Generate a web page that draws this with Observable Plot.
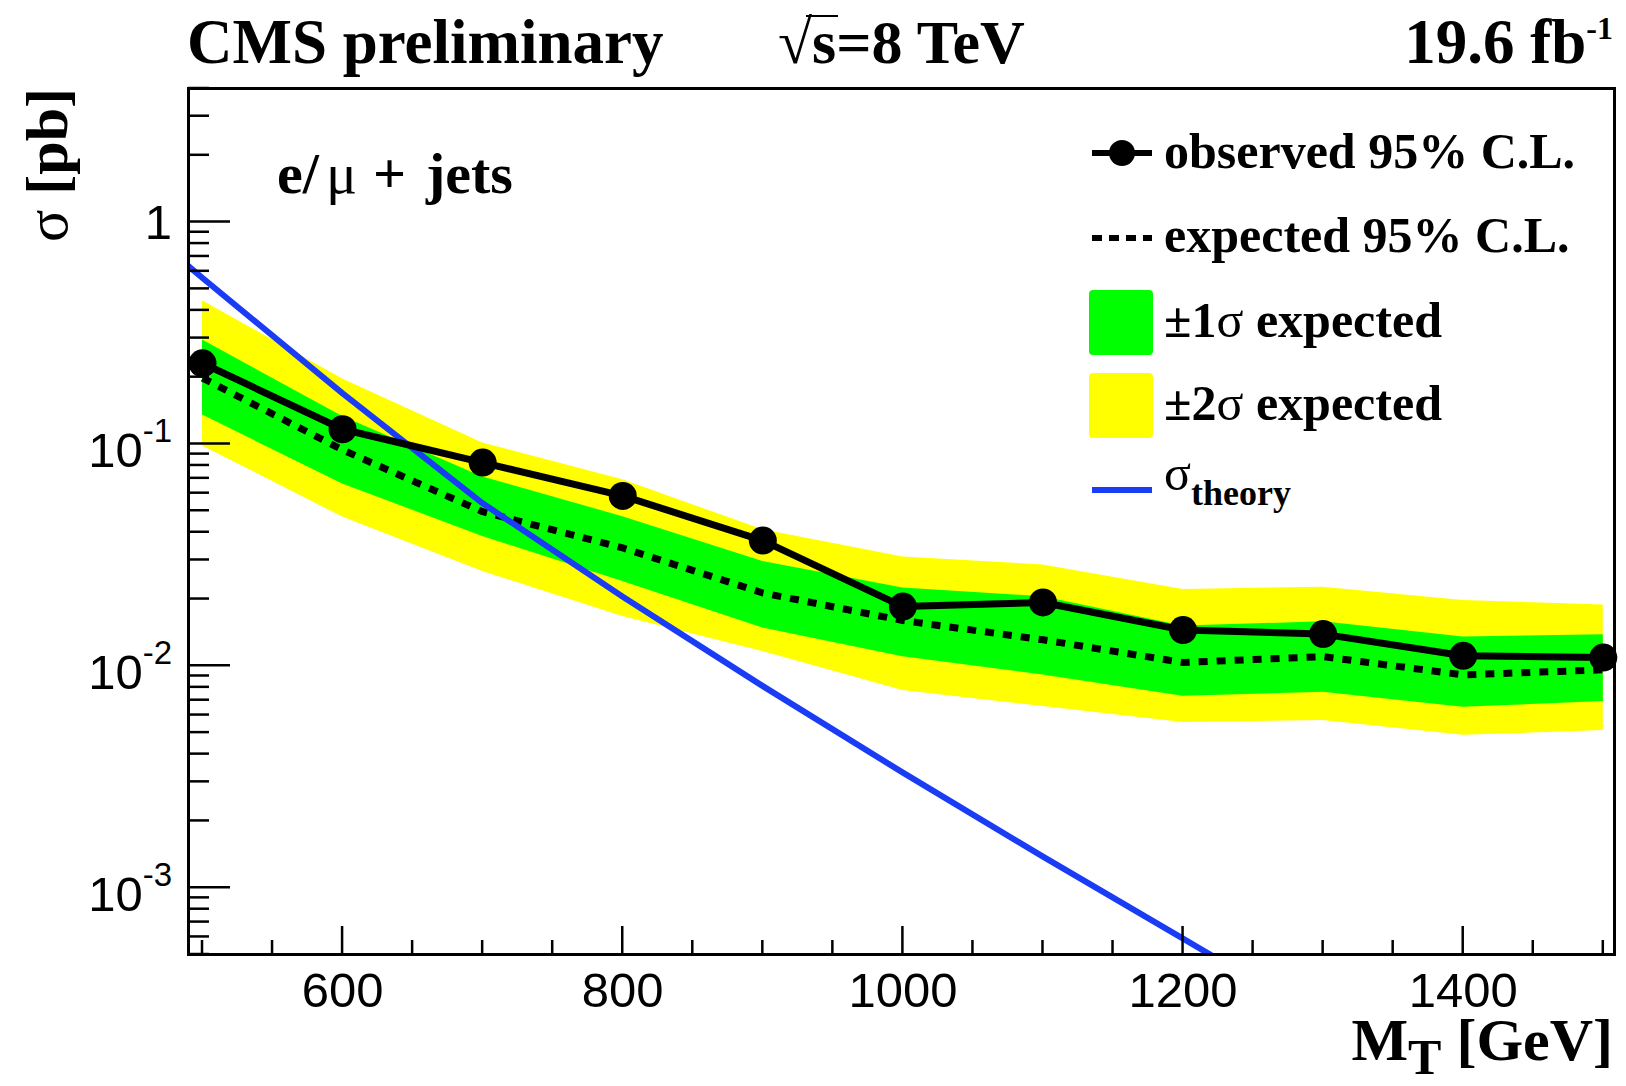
<!DOCTYPE html>
<html>
<head>
<meta charset="utf-8">
<script src="https://cdn.jsdelivr.net/npm/d3@7"></script>
<script src="https://cdn.jsdelivr.net/npm/@observablehq/plot@0.6"></script>
<style>
  html, body { margin: 0; padding: 0; background: #fff; }
  #chart { width: 1626px; height: 1086px; }
  #chart svg { display: block; }
</style>
</head>
<body>
<div id="chart"></div>
<script>
// Transverse mass points (GeV) of the limit scan
const mass = [500, 600, 700, 800, 900, 1000, 1100, 1200, 1300, 1400, 1500];

// 95% C.L. upper limits on the cross section (pb)
const observed = [0.231, 0.1165, 0.0824, 0.0583, 0.0367, 0.0185, 0.0193, 0.0145, 0.0139, 0.0111, 0.0109];
const expected = [0.198, 0.094, 0.0495, 0.034, 0.0213, 0.0160, 0.0131, 0.01035, 0.0110, 0.0091, 0.0096];

// Expected-limit bands
const oneSigmaUp   = [0.294, 0.133, 0.071, 0.047, 0.0295, 0.0224, 0.0205, 0.0151, 0.0158, 0.0135, 0.0138];
const oneSigmaDown = [0.135, 0.066, 0.0383, 0.024, 0.0148, 0.0110, 0.0091, 0.0073, 0.0076, 0.0065, 0.0069];
const twoSigmaUp   = [0.442, 0.196, 0.101, 0.069, 0.041, 0.0309, 0.0285, 0.0221, 0.0226, 0.0197, 0.0188];
const twoSigmaDown = [0.098, 0.0468, 0.0266, 0.0167, 0.0116, 0.00775, 0.00656, 0.00556, 0.00567, 0.00486, 0.00511];

// Theoretical cross section (pb)
const theoryMass  = [400, 500, 600, 700, 800, 900, 1000, 1100, 1200, 1300];
const theoryXsec  = [1.9, 0.56, 0.169, 0.054, 0.0205, 0.0081, 0.0033, 0.00138, 0.00059, 0.00025];

// Axis ticks
const xMajorTicks = [600, 800, 1000, 1200, 1400];
const yLabelValues = [1, 1e-1, 1e-2, 1e-3];
const yLabelExponents = [0, -1, -2, -3];

const limits = mass.map((m, i) => ({
  m,
  obs: observed[i],
  exp: expected[i],
  up1: oneSigmaUp[i],
  dn1: oneSigmaDown[i],
  up2: twoSigmaUp[i],
  dn2: twoSigmaDown[i]
}));
const theory = theoryMass.map((m, i) => ({m, s: theoryXsec[i]}));

const serif = "'Liberation Serif', 'Times New Roman', Times, serif";
const sans = "'Liberation Sans', Helvetica, Arial, sans-serif";
const BLUE = "#1a3cf5";

const W = 1626, H = 1086;
const mTop = 88, mRight = 12, mBottom = 132, mLeft = 188;

const plot = Plot.plot({
  width: W,
  height: H,
  marginTop: mTop,
  marginRight: mRight,
  marginBottom: mBottom,
  marginLeft: mLeft,
  style: {background: "#fff", overflow: "visible"},
  x: {domain: [490, 1508]},
  y: {type: "log", domain: [5e-4, 4], axis: null},
  marks: [
    Plot.areaY(limits, {x: "m", y1: "dn2", y2: "up2", fill: "#ffff00"}),
    Plot.areaY(limits, {x: "m", y1: "dn1", y2: "up1", fill: "#00ff00"}),
    Plot.line(limits, {
      x: "m", y: "exp", stroke: "#000", strokeWidth: 7,
      strokeDasharray: "9,9", strokeLinecap: "butt", strokeLinejoin: "miter"
    }),
    Plot.line(theory, {x: "m", y: "s", stroke: BLUE, strokeWidth: 6, clip: true}),
    Plot.line(limits, {x: "m", y: "obs", stroke: "#000", strokeWidth: 7}),
    Plot.dot(limits, {x: "m", y: "obs", r: 14, fill: "#000", stroke: null}),
    Plot.axisX({
      ticks: xMajorTicks,
      tickSize: 0,
      tickPadding: 18,
      fontSize: 49,
      fontFamily: sans,
      fill: "#000",
      label: null,
      tickFormat: d => String(d)
    }),
    Plot.frame({stroke: "#000", strokeWidth: 3})
  ]
});

document.getElementById("chart").appendChild(plot);

const svg = d3.select(plot);
const xs = plot.scale("x");
const ys = plot.scale("y");
const X = v => xs.apply(v);
const Y = v => ys.apply(v);
const frameBottom = H - mBottom;

// Inward ticks on the left (log) and bottom axes
const ticks = svg.append("g").attr("stroke", "#000").attr("stroke-width", 2.5);
for (let e = -4; e <= 0; e++) {
  for (let k = 1; k <= 9; k++) {
    const v = k * Math.pow(10, e);
    if (v < 5e-4 * 0.999 || v > 4 * 1.001) continue;
    const len = k === 1 ? 42 : 21;
    ticks.append("line")
      .attr("x1", mLeft).attr("x2", mLeft + len)
      .attr("y1", Y(v)).attr("y2", Y(v));
  }
}
for (let v = 500; v <= 1500; v += 50) {
  const len = xMajorTicks.includes(v) ? 28 : 14;
  ticks.append("line")
    .attr("x1", X(v)).attr("x2", X(v))
    .attr("y1", frameBottom).attr("y2", frameBottom - len);
}

// All annotation text is laid out from its start unless stated otherwise
const notes = svg.append("g").attr("text-anchor", "start").attr("fill", "#000");

// Power-of-ten labels on the y axis
yLabelValues.forEach((v, i) => {
  const e = yLabelExponents[i];
  const t = notes.append("text")
    .attr("x", 172)
    .attr("text-anchor", "end")
    .attr("font-family", sans)
    .attr("font-size", 49);
  if (e === 0) {
    t.attr("y", Y(v) + 17.5).text("1");
  } else {
    t.attr("y", Y(v) + 24);
    t.append("tspan").text("10");
    t.append("tspan").attr("font-size", 33).attr("dy", -25).text(String(e));
  }
});

// Header line
const header = notes.append("g").attr("font-family", serif).attr("font-weight", "bold");
header.append("text").attr("x", 187).attr("y", 63).attr("font-size", 63).text("CMS preliminary");
const energy = header.append("text").attr("x", 778).attr("y", 63).attr("font-size", 62);
energy.append("tspan").attr("font-weight", "normal").text("\u221A");
energy.append("tspan").text("s=8 TeV");
header.append("line").attr("x1", 806).attr("x2", 838).attr("y1", 16).attr("y2", 16)
  .attr("stroke", "#000").attr("stroke-width", 2);
const lumi = header.append("text").attr("x", 1613).attr("y", 63).attr("font-size", 63).attr("text-anchor", "end");
lumi.append("tspan").text("19.6 fb");
lumi.append("tspan").attr("font-size", 32).attr("dy", -24).text("-1");

// Axis titles
const yTitle = notes.append("text")
  .attr("transform", `translate(67,${mTop}) rotate(-90)`)
  .attr("text-anchor", "end")
  .attr("font-family", serif)
  .attr("font-size", 60);
yTitle.append("tspan").text("\u03C3");
yTitle.append("tspan").attr("font-weight", "bold").text(" [pb]");

const xTitle = notes.append("text")
  .attr("x", 1613).attr("y", 1060)
  .attr("text-anchor", "end")
  .attr("font-family", serif)
  .attr("font-weight", "bold")
  .attr("font-size", 60);
xTitle.append("tspan").text("M");
xTitle.append("tspan").attr("font-size", 50).attr("dy", 14).text("T");
xTitle.append("tspan").attr("dy", -14).text(" [GeV]");

// Channel label
const chan = notes.append("text")
  .attr("y", 193)
  .attr("font-family", serif)
  .attr("font-weight", "bold")
  .attr("font-size", 58);
chan.append("tspan").attr("x", 277).text("e/");
chan.append("tspan").attr("x", 326).attr("font-weight", "normal").text("\u03BC");
chan.append("tspan").attr("x", 373).text("+");
chan.append("tspan").attr("x", 426).text("jets");

// Legend
const lg = notes.append("g");
const lx0 = 1092, lx1 = 1152, textX = 1164;
const legendText = (y, str) => lg.append("text")
  .attr("x", textX).attr("y", y)
  .attr("font-family", serif).attr("font-weight", "bold")
  .attr("font-size", 50).text(str);

lg.append("line").attr("x1", lx0).attr("x2", lx1).attr("y1", 153).attr("y2", 153)
  .attr("stroke", "#000").attr("stroke-width", 6);
lg.append("circle").attr("cx", (lx0 + lx1) / 2).attr("cy", 153).attr("r", 13).attr("fill", "#000");
legendText(168, "observed 95% C.L.");

lg.append("line").attr("x1", lx0).attr("x2", lx1).attr("y1", 238).attr("y2", 238)
  .attr("stroke", "#000").attr("stroke-width", 6).attr("stroke-dasharray", "10,7");
legendText(252, "expected 95% C.L.");

lg.append("rect").attr("x", 1089).attr("y", 290).attr("width", 64).attr("height", 65)
  .attr("rx", 4).attr("fill", "#00ff00");
const s1 = legendText(337, "");
s1.append("tspan").text("\u00B11");
s1.append("tspan").attr("font-weight", "normal").text("\u03C3");
s1.append("tspan").text(" expected");

lg.append("rect").attr("x", 1089).attr("y", 373).attr("width", 64).attr("height", 65)
  .attr("rx", 4).attr("fill", "#ffff00");
const s2 = legendText(420, "");
s2.append("tspan").text("\u00B12");
s2.append("tspan").attr("font-weight", "normal").text("\u03C3");
s2.append("tspan").text(" expected");

lg.append("line").attr("x1", lx0).attr("x2", lx1).attr("y1", 490).attr("y2", 490)
  .attr("stroke", BLUE).attr("stroke-width", 6);
const th = legendText(490, "");
th.append("tspan").attr("font-weight", "normal").text("\u03C3");
th.append("tspan").attr("font-size", 36).attr("dy", 15).text("theory");
</script>
</body>
</html>
